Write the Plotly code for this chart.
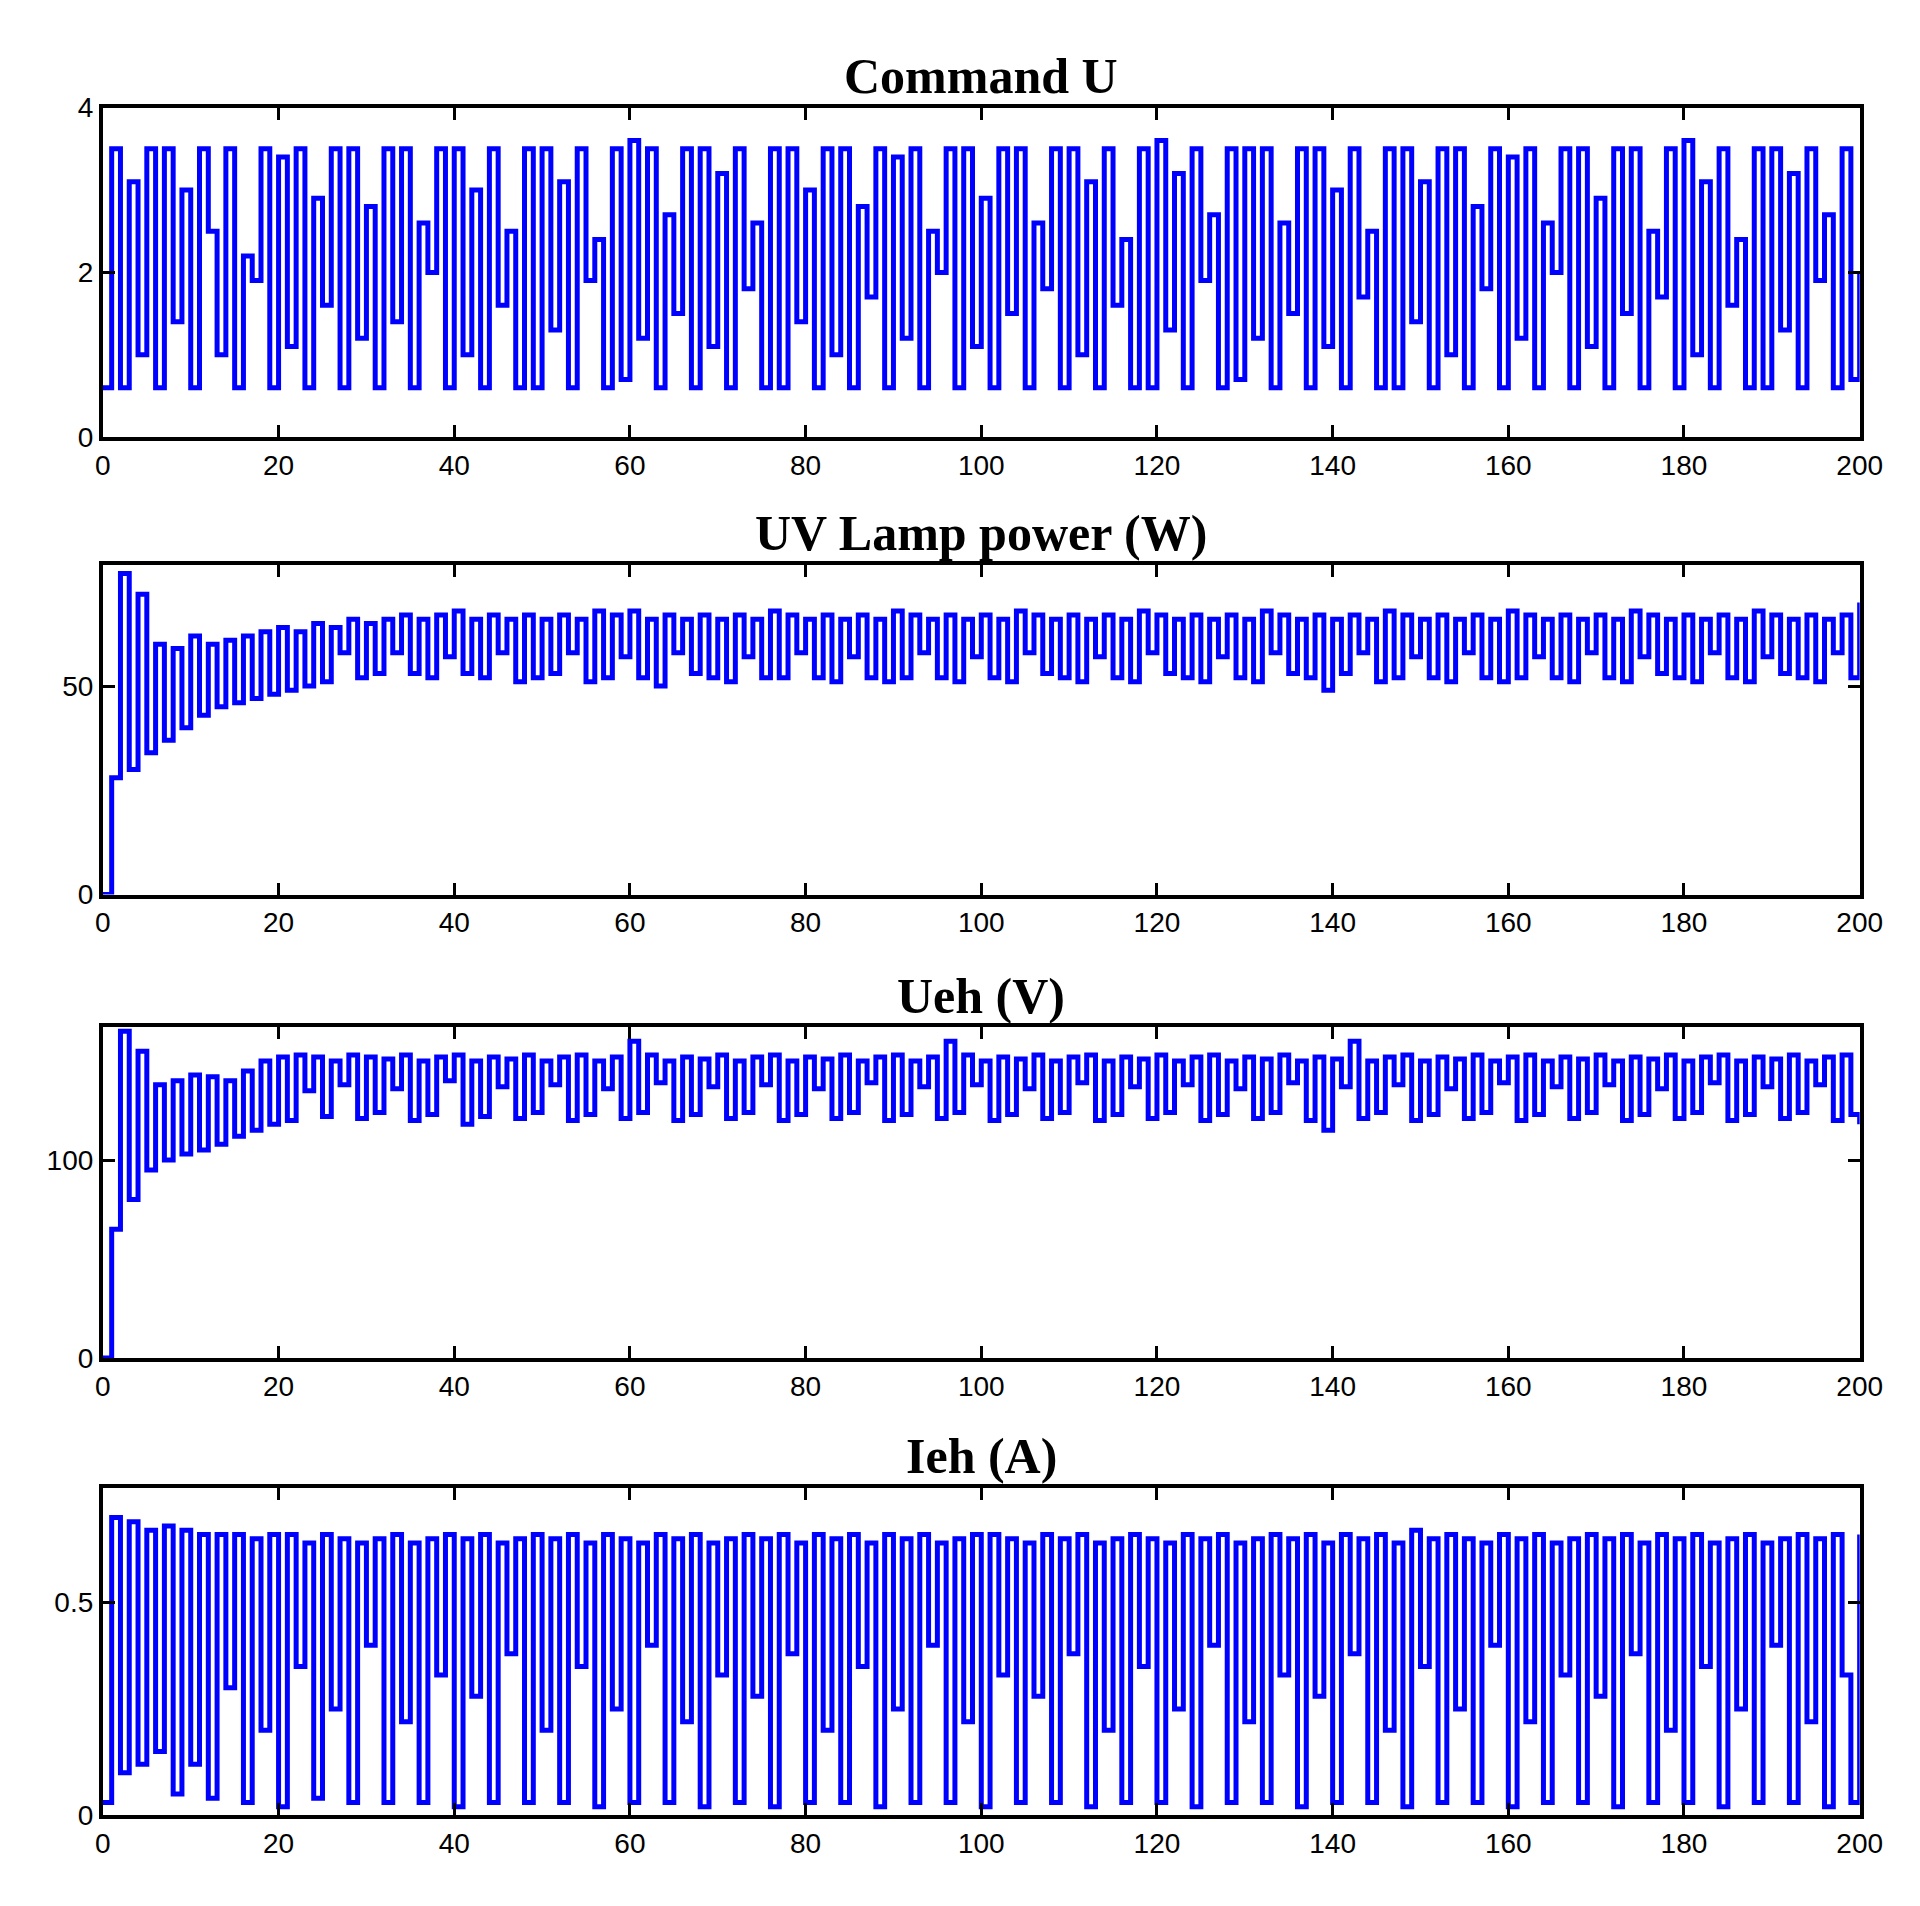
import plotly.graph_objects as go

t = list(range(201))
command_u = [0.6,3.5,0.6,3.1,1.0,3.5,0.6,3.5,1.4,3.0,
0.6,3.5,2.5,1.0,3.5,0.6,2.2,1.9,3.5,0.6,
3.4,1.1,3.5,0.6,2.9,1.6,3.5,0.6,3.5,1.2,
2.8,0.6,3.5,1.4,3.5,0.6,2.6,2.0,3.5,0.6,
3.5,1.0,3.0,0.6,3.5,1.6,2.5,0.6,3.5,0.6,
3.5,1.3,3.1,0.6,3.5,1.9,2.4,0.6,3.5,0.7,
3.6,1.2,3.5,0.6,2.7,1.5,3.5,0.6,3.5,1.1,
3.2,0.6,3.5,1.8,2.6,0.6,3.5,0.6,3.5,1.4,
3.0,0.6,3.5,1.0,3.5,0.6,2.8,1.7,3.5,0.6,
3.4,1.2,3.5,0.6,2.5,2.0,3.5,0.6,3.5,1.1,
2.9,0.6,3.5,1.5,3.5,0.6,2.6,1.8,3.5,0.6,
3.5,1.0,3.1,0.6,3.5,1.6,2.4,0.6,3.5,0.6,
3.6,1.3,3.2,0.6,3.5,1.9,2.7,0.6,3.5,0.7,
3.5,1.2,3.5,0.6,2.6,1.5,3.5,0.6,3.5,1.1,
3.0,0.6,3.5,1.7,2.5,0.6,3.5,0.6,3.5,1.4,
3.1,0.6,3.5,1.0,3.5,0.6,2.8,1.8,3.5,0.6,
3.4,1.2,3.5,0.6,2.6,2.0,3.5,0.6,3.5,1.1,
2.9,0.6,3.5,1.5,3.5,0.6,2.5,1.7,3.5,0.6,
3.6,1.0,3.1,0.6,3.5,1.6,2.4,0.6,3.5,0.6,
3.5,1.3,3.2,0.6,3.5,1.9,2.7,0.6,3.5,0.7,
2.0]
lamp_power = [0,28,77,30,72,34,60,37,59,40,
62,43,60,45,61,46,62,47,63,48,
64,49,63,50,65,51,64,58,66,52,
65,53,66,58,67,53,66,52,67,57,
68,53,66,52,67,58,66,51,67,52,
66,53,67,58,66,51,68,52,67,57,
68,52,66,50,67,58,66,53,67,52,
66,51,67,57,66,52,68,52,67,58,
66,52,67,51,66,57,67,52,66,51,
68,52,67,58,66,52,67,51,66,57,
67,52,66,51,68,58,67,53,66,52,
67,51,66,57,67,52,66,51,68,58,
67,53,66,52,67,51,66,57,67,52,
66,51,68,58,67,53,66,52,67,49,
66,53,67,58,66,51,68,52,67,57,
66,52,67,51,66,58,67,52,66,51,
68,52,67,57,66,52,67,51,66,58,
67,52,66,51,68,57,67,53,66,52,
67,51,66,58,67,52,66,51,68,57,
67,53,66,52,67,51,66,58,67,52,
70]
ueh = [0,65,165,80,155,95,138,100,140,103,
143,105,142,108,140,112,145,115,150,118,
152,120,153,135,152,122,150,138,153,121,
152,124,151,136,153,120,150,123,152,140,
153,118,150,122,152,137,151,121,153,124,
150,138,152,120,153,123,150,136,152,121,
160,124,153,139,150,120,152,123,151,137,
153,121,150,124,152,138,153,120,150,123,
152,136,151,121,153,124,150,139,152,120,
153,123,150,137,152,121,160,124,153,138,
150,120,152,123,151,136,153,121,150,124,
152,139,153,120,150,123,152,137,151,121,
153,124,150,138,152,120,153,123,150,136,
152,121,151,124,153,139,150,120,152,115,
151,137,160,121,150,124,152,138,153,120,
150,123,152,136,151,121,153,124,150,139,
152,120,153,123,150,137,152,121,151,124,
153,138,150,120,152,123,151,136,153,121,
150,124,152,139,153,120,150,123,152,137,
151,121,153,124,150,138,152,120,153,123,
118]
ieh = [0.03,0.70,0.10,0.69,0.12,0.67,0.15,0.68,0.05,0.67,
0.12,0.66,0.04,0.66,0.30,0.66,0.03,0.65,0.20,0.66,
0.02,0.66,0.35,0.64,0.04,0.66,0.25,0.65,0.03,0.64,
0.40,0.65,0.03,0.66,0.22,0.64,0.03,0.65,0.33,0.66,
0.02,0.65,0.28,0.66,0.03,0.64,0.38,0.65,0.03,0.66,
0.20,0.65,0.03,0.66,0.35,0.64,0.02,0.66,0.25,0.65,
0.03,0.64,0.40,0.66,0.03,0.65,0.22,0.66,0.02,0.64,
0.33,0.65,0.03,0.66,0.28,0.65,0.02,0.66,0.38,0.64,
0.03,0.66,0.20,0.65,0.03,0.66,0.35,0.64,0.02,0.66,
0.25,0.65,0.03,0.66,0.40,0.64,0.03,0.65,0.22,0.66,
0.02,0.66,0.33,0.65,0.03,0.64,0.28,0.66,0.03,0.65,
0.38,0.66,0.02,0.64,0.20,0.65,0.03,0.66,0.35,0.65,
0.03,0.64,0.25,0.66,0.02,0.65,0.40,0.66,0.03,0.64,
0.22,0.65,0.03,0.66,0.33,0.65,0.02,0.66,0.28,0.64,
0.03,0.66,0.38,0.65,0.03,0.66,0.20,0.64,0.02,0.67,
0.35,0.65,0.03,0.66,0.25,0.65,0.03,0.64,0.40,0.66,
0.02,0.65,0.22,0.66,0.03,0.64,0.33,0.65,0.03,0.66,
0.28,0.65,0.02,0.66,0.38,0.64,0.03,0.66,0.20,0.65,
0.03,0.66,0.35,0.64,0.02,0.65,0.25,0.66,0.03,0.64,
0.40,0.65,0.03,0.66,0.22,0.65,0.02,0.66,0.33,0.03,
0.66]

titles = ["Command U", "UV Lamp power (W)", "Ueh (V)", "Ieh (A)"]
series = [command_u, lamp_power, ueh, ieh]
yranges = [[0, 4], [0, 79], [0, 167], [0, 0.77]]
yticks = [[0, 2, 4], [0, 50], [0, 100], [0, 0.5]]
yticktext = [["0", "2", "4"], ["0", "50"], ["0", "100"], ["0", "0.5"]]
xticks = list(range(0, 201, 20))

fig = go.Figure()
doms = [(1 - 421/1906, 1 - 86/1906), (1 - 886/1906, 1 - 551/1906),
        (1 - 1357/1906, 1 - 1021/1906), (1 - 1822/1906, 1 - 1489/1906)]
font = dict(family="Liberation Sans", size=28, color="black")
for i in range(4):
    n = "" if i == 0 else str(i + 1)
    fig.add_trace(go.Scatter(x=t, y=series[i], mode="lines",
                             line=dict(color="#0000ff", width=5, shape="hv"),
                             xaxis="x" + n, yaxis="y" + n, showlegend=False))
    ax = dict(showline=True, mirror="ticks", linecolor="black", linewidth=4,
              ticks="inside", ticklen=12, tickwidth=3, tickcolor="black",
              showgrid=False, zeroline=False, tickfont=font)
    fig.layout["xaxis" + n] = dict(ax, domain=[0.046, 0.976], range=[0, 200],
                                   tickvals=xticks, anchor="y" + n)
    fig.layout["yaxis" + n] = dict(ax, domain=list(doms[i]), range=yranges[i],
                                   tickvals=yticks[i], ticktext=yticktext[i],
                                   anchor="x" + n)
    fig.add_annotation(text="<b>" + titles[i] + "</b>", xref="paper", yref="paper", x=0.511,
                       y=doms[i][1] + 0.001, yanchor="bottom", showarrow=False,
                       font=dict(family="Liberation Serif", size=50, color="black"))

fig.update_layout(width=1920, height=1906, plot_bgcolor="white",
                  paper_bgcolor="white", margin=dict(l=0, r=0, t=0, b=0))
fig.write_html("out.html")
